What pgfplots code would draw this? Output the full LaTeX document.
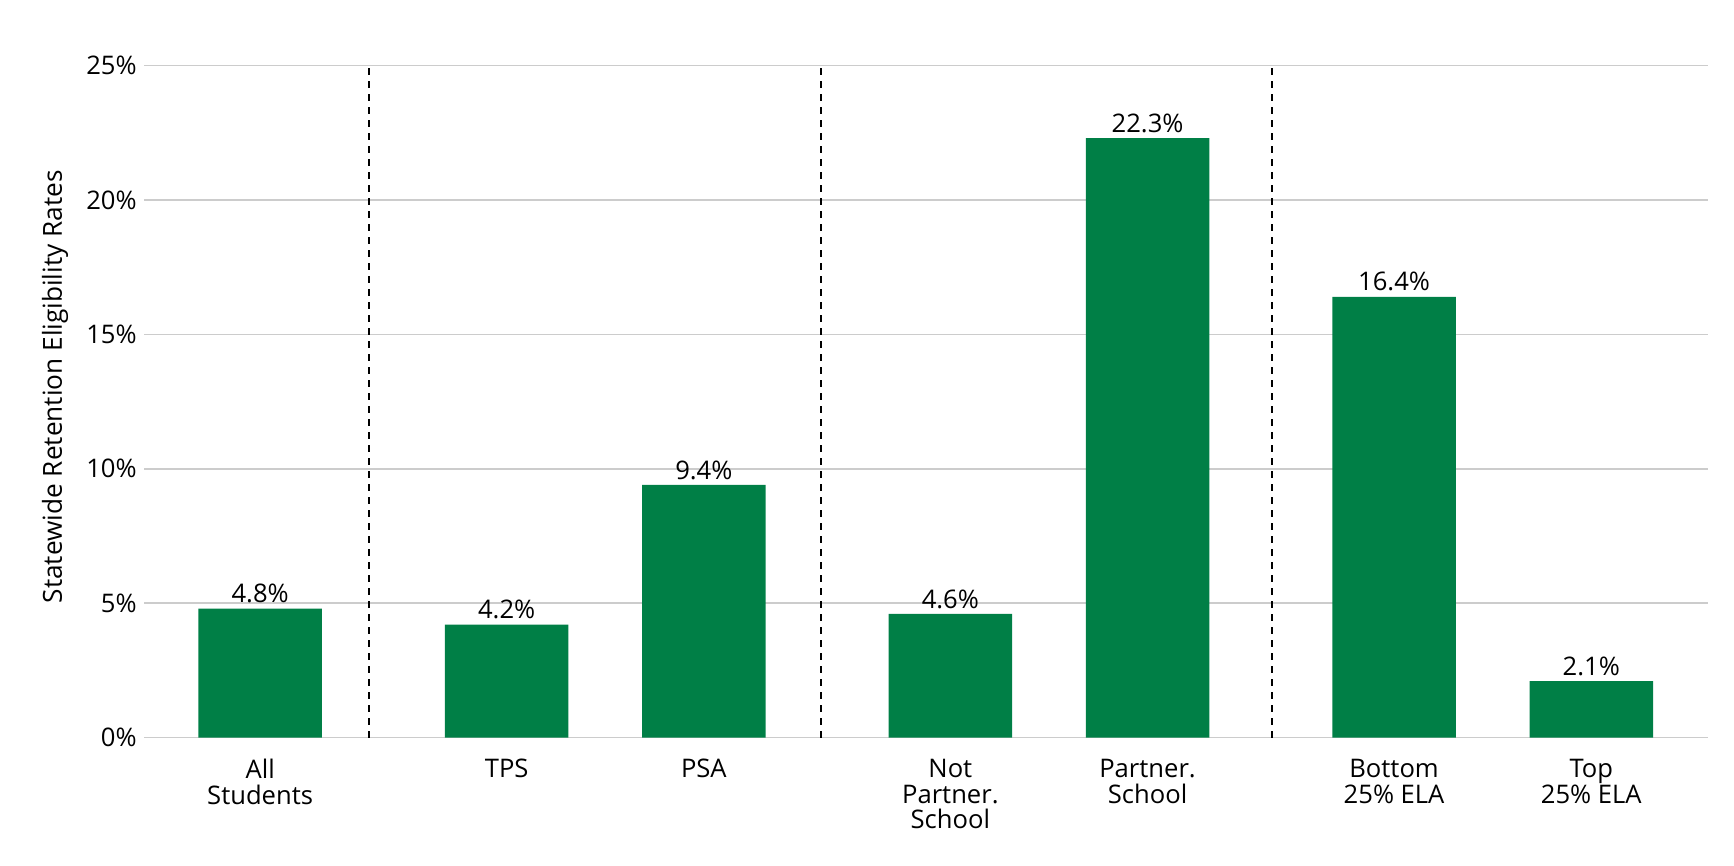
\documentclass[border=0pt]{standalone}
\usepackage{fontspec}
\setmainfont{Open Sans}
\usepackage{pgfplots}
\pgfplotsset{compat=1.18}
\definecolor{bargreen}{RGB}{0,127,70}
\newcommand\lab{\fontsize{12.8}{12.9}\selectfont}
\newcommand\ylab{\fontsize{13.1}{14}\selectfont}
\begin{document}
\begin{tikzpicture}
\useasboundingbox (0,0) rectangle (867pt,433pt);
\begin{axis}[
  at={(72pt,64.2pt)}, anchor=south west,
  scale only axis, width=782pt, height=336pt,
  xmin=-0.589, xmax=7.342, ymin=0, ymax=25,
  axis line style={draw=none},
  major tick length=0pt,
  xtick={0,1.25,2.25,3.5,4.5,5.75,6.75},
  xticklabels={All\\Students, TPS, PSA, Not\\Partner.\\School, Partner.\\School, Bottom\\25\% ELA, Top\\25\% ELA},
  xticklabel style={align=center, font=\lab, anchor=north, inner sep=0pt, yshift=-10.5pt},
  ytick={0,5,10,15,20,25},
  yticklabels={0\%,5\%,10\%,15\%,20\%,25\%},
  yticklabel style={font=\lab, anchor=east, inner sep=0pt, xshift=-3.5pt},
  ymajorgrids, grid style={color=black!20, line width=0.75pt},
  ylabel={Statewide Retention Eligibility Rates},
  every axis y label/.style={at={(rel axis cs:0,0.522)}, xshift=-44.5pt, rotate=90, anchor=center, font=\ylab},
]
\addplot[ybar, bar width=61.75pt, fill=bargreen, draw=none,
  nodes near coords={\pgfmathprintnumber[fixed,precision=1,fixed zerofill,assume math mode=true]{\pgfplotspointmeta}\%},
  every node near coord/.append style={font=\lab, inner sep=0pt, yshift=2.5pt, text=black}]
  coordinates {(0,4.8) (1.25,4.2) (2.25,9.4) (3.5,4.6) (4.5,22.3) (5.75,16.4) (6.75,2.1)};
\addplot[black, line width=0.9pt, dash pattern=on 3.3pt off 3.2pt] coordinates {(0.552,0) (0.552,24.9)};
\addplot[black, line width=0.9pt, dash pattern=on 3.3pt off 3.2pt] coordinates {(2.842,0) (2.842,24.9)};
\addplot[black, line width=0.9pt, dash pattern=on 3.3pt off 3.2pt] coordinates {(5.131,0) (5.131,24.9)};
\end{axis}
\end{tikzpicture}
\end{document}
